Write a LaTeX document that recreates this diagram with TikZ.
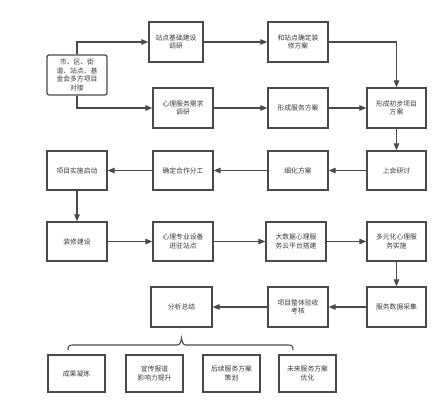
\documentclass[tikz,border=0pt]{standalone}
\usepackage{fontspec}
\setmainfont{Noto Sans CJK SC}
\usetikzlibrary{arrows.meta}
\definecolor{linec}{HTML}{4A4A4A}
\definecolor{textc}{HTML}{3A3A3A}
\tikzset{
  box/.style={draw=linec, line width=1.3pt, fill=white, minimum width=60pt, minimum height=40pt,
    align=center, inner sep=1pt, text=textc, font=\fontsize{6.8pt}{8.6pt}\selectfont},
  arr/.style={draw=linec, line width=1.1pt, -{Triangle[length=7pt,width=5.5pt]}},
  ln/.style={draw=linec, line width=1.1pt}
}
\begin{document}
\begin{tikzpicture}[x=1pt,y=-1pt]
\useasboundingbox (0,0) rectangle (448,420);
\node[box, rounded corners=2pt] (n1) at (77,75) {市、区、街\\道、站点、基\\金会多方项目\\对接};
\node[box, minimum width=54pt] (a1) at (176,42) {站点基础建设\\调研};
\node[box] (a2) at (298,42) {和站点确定装\\修方案};
\node[box] (b1) at (183,108) {心理服务需求\\调研};
\node[box] (b2) at (298,108) {形成服务方案};
\node[box, minimum width=59pt] (b3) at (396.5,108) {形成初步项目\\方案};
\node[box, minimum width=59pt, minimum height=39pt] (c4) at (396.5,170.5) {上会研讨};
\node[box, minimum height=39pt] (c3) at (298,170.5) {细化方案};
\node[box, minimum height=39pt] (c2) at (183,170.5) {确定合作分工};
\node[box, minimum height=39pt] (c1) at (77,170.5) {项目实施启动};
\node[box, minimum height=39pt] (d1) at (77,241.5) {装修建设};
\node[box, minimum height=39pt] (d2) at (183,241.5) {心理专业设备\\进驻站点};
\node[box, minimum height=39pt] (d3) at (296,241.5) {大数据心理服\\务云平台搭建};
\node[box, minimum width=59pt, minimum height=39pt] (d4) at (396.5,241.5) {多元化心理服\\务实施};
\node[box, minimum width=59pt] (e3) at (396.5,307) {服务数据采集};
\node[box] (e2) at (298,307) {项目整体验收\\考核};
\node[box, minimum width=61pt] (e1) at (181.5,307) {分析总结};
\node[box, minimum width=57pt, minimum height=37pt] (f1) at (76.5,373.5) {成果凝练};
\node[box, minimum width=57pt, minimum height=37pt] (f2) at (154.5,373.5) {宣传报道\\影响力提升};
\node[box, minimum width=57pt, minimum height=37pt] (f3) at (231.5,373.5) {后续服务方案\\策划};
\node[box, minimum width=57pt, minimum height=37pt] (f4) at (307.5,373.5) {未来服务方案\\优化};
\draw[arr] (n1.north) |- (a1.west);
\draw[arr] (n1.south) |- (b1.west);
\draw[arr] (a1) -- (a2);
\draw[arr] (a2.east) -| (b3.north);
\draw[arr] (b1) -- (b2);
\draw[arr] (b2) -- (b3);
\draw[arr] (b3) -- (c4);
\draw[arr] (c4) -- (c3);
\draw[arr] (c3) -- (c2);
\draw[arr] (c2) -- (c1);
\draw[arr] (c1) -- (d1);
\draw[arr] (d1) -- (d2);
\draw[arr] (d2) -- (d3);
\draw[arr] (d3) -- (d4);
\draw[arr] (d4) -- (e3);
\draw[arr] (e3) -- (e2);
\draw[arr] (e2) -- (e1);
\draw[ln] (68,350) .. controls (68,346) and (69,345) .. (73,345) -- (177,345)
  .. controls (180,345) and (181,342) .. (181.5,338)
  .. controls (182,342) and (183,345) .. (186,345) -- (288,345)
  .. controls (292,345) and (293,346) .. (293,350);
\end{tikzpicture}
\end{document}
